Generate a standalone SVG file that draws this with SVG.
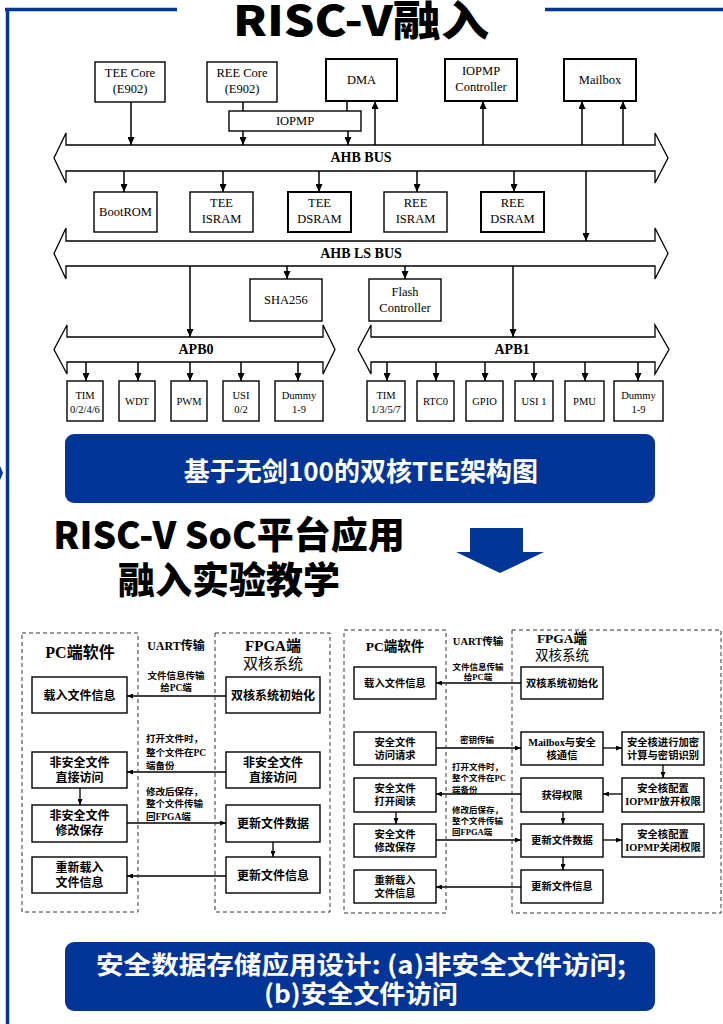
<svg xmlns="http://www.w3.org/2000/svg" width="723" height="1024" viewBox="0 0 723 1024">
<style>
.box{fill:#fff;stroke:#000;stroke-width:1.4}
.thk{stroke-width:2}
.bus{fill:#fff;stroke:#000;stroke-width:1.3}
.ln{stroke:#000;stroke-width:1.5;fill:none}
.la{stroke:#000;stroke-width:1.5;fill:none;marker-end:url(#ah)}
.lb{stroke:#000;stroke-width:1.3;fill:none;marker-end:url(#as)}
.dash{fill:none;stroke:#333;stroke-width:1;stroke-dasharray:4 3}
.t{font-family:"Liberation Serif","Times New Roman",serif;font-size:12.5px;text-anchor:middle;fill:#000}
.ts{font-family:"Liberation Serif","Times New Roman",serif;font-size:10.5px;text-anchor:middle;fill:#000}
.bl{font-family:"Liberation Serif","Times New Roman",serif;font-size:14px;font-weight:bold;text-anchor:middle;fill:#000}
.ca{font-family:"Liberation Serif","Noto Sans CJK SC",serif;font-size:12px;font-weight:bold;text-anchor:middle;fill:#000}
.la9{font-family:"Liberation Serif","Noto Sans CJK SC",serif;font-size:9.5px;font-weight:bold;fill:#000}
.cb{font-family:"Liberation Serif","Noto Sans CJK SC",serif;font-size:10.3px;font-weight:bold;text-anchor:middle;fill:#000}
.lb8{font-family:"Liberation Serif","Noto Sans CJK SC",serif;font-size:8.5px;font-weight:bold;fill:#000}
.hd{font-family:"Liberation Serif","Noto Sans CJK SC",serif;font-weight:bold;text-anchor:middle;fill:#000}
.hn{font-family:"Liberation Serif","Noto Sans CJK SC",serif;text-anchor:middle;fill:#000}
.big{font-family:"Noto Sans CJK SC","Noto Sans",sans-serif;font-weight:900;fill:#000}
.wt{font-family:"Noto Sans CJK SC","Noto Sans",sans-serif;font-weight:bold;fill:#fff;text-anchor:middle}
.blue{fill:#033598}
</style>
<defs>
<marker id="ah" viewBox="0 0 10 10" refX="10" refY="5" markerWidth="8" markerHeight="7" preserveAspectRatio="none" orient="auto" markerUnits="userSpaceOnUse"><path d="M0,0 L10,5 L0,10 z" fill="#000"/></marker>
<marker id="as" viewBox="0 0 10 10" refX="10" refY="5" markerWidth="6" markerHeight="5" preserveAspectRatio="none" orient="auto" markerUnits="userSpaceOnUse"><path d="M0,0 L10,5 L0,10 z" fill="#000"/></marker>
</defs>

<g id="frame">
<path d="M5,9.5 H177 M545,9.5 H723" stroke="#033598" stroke-width="3.5" fill="none"/>
<path d="M7.5,8 V1024" stroke="#033598" stroke-width="3.5" fill="none"/>
<polygon points="0,466 3,473 0,480" fill="#033598"/>
</g>

<text id="title1" class="big" x="361" y="36" font-size="42" text-anchor="middle" textLength="256" lengthAdjust="spacingAndGlyphs">RISC-V融入</text>

<g id="connectors">
<line class="la" x1="131" y1="102" x2="131" y2="145"/>
<line class="ln" x1="243" y1="102" x2="243" y2="111"/>
<line class="ln" x1="347" y1="101" x2="347" y2="111"/>
<line class="la" x1="243" y1="131" x2="243" y2="145"/>
<line class="la" x1="348" y1="131" x2="348" y2="145"/>
<line class="la" x1="375" y1="145" x2="375" y2="101"/>
<line class="la" x1="483" y1="145" x2="483" y2="101"/>
<line class="la" x1="582" y1="145" x2="582" y2="101"/>
<line class="la" x1="623" y1="145" x2="623" y2="101"/>
<line class="la" x1="124" y1="171" x2="124" y2="192"/>
<line class="la" x1="223" y1="171" x2="223" y2="192"/>
<line class="la" x1="319" y1="171" x2="319" y2="192"/>
<line class="la" x1="417" y1="171" x2="417" y2="192"/>
<line class="la" x1="514" y1="171" x2="514" y2="192"/>
<line class="la" x1="586" y1="171" x2="586" y2="241"/>
<line class="la" x1="190" y1="266" x2="190" y2="337"/>
<line class="la" x1="287" y1="266" x2="287" y2="279"/>
<line class="la" x1="405" y1="266" x2="405" y2="279"/>
<line class="la" x1="513" y1="266" x2="513" y2="337"/>
<line class="la" x1="86" y1="362" x2="86" y2="381"/>
<line class="la" x1="138" y1="362" x2="138" y2="381"/>
<line class="la" x1="190" y1="362" x2="190" y2="381"/>
<line class="la" x1="241" y1="362" x2="241" y2="381"/>
<line class="la" x1="298" y1="362" x2="298" y2="381"/>
<line class="la" x1="387" y1="362" x2="387" y2="381"/>
<line class="la" x1="436" y1="362" x2="436" y2="381"/>
<line class="la" x1="485" y1="362" x2="485" y2="381"/>
<line class="la" x1="534" y1="362" x2="534" y2="381"/>
<line class="la" x1="585" y1="362" x2="585" y2="381"/>
<line class="la" x1="638" y1="362" x2="638" y2="381"/>
<!-- (a) -->
<line class="lb" x1="226" y1="696" x2="127" y2="696"/>
<line class="lb" x1="226" y1="772" x2="127" y2="772"/>
<line class="lb" x1="80" y1="788" x2="80" y2="805"/>
<line class="lb" x1="127" y1="823" x2="226" y2="823"/>
<line class="lb" x1="273" y1="842" x2="273" y2="857"/>
<line class="lb" x1="226" y1="876" x2="127" y2="876"/>
<!-- (b) -->
<line class="lb" x1="521" y1="683" x2="436" y2="683"/>
<line class="lb" x1="436" y1="748" x2="521" y2="748"/>
<line class="lb" x1="603" y1="748" x2="622" y2="748"/>
<line class="lb" x1="663" y1="765" x2="663" y2="778"/>
<line class="lb" x1="622" y1="794" x2="603" y2="794"/>
<line class="lb" x1="521" y1="794" x2="436" y2="794"/>
<line class="lb" x1="396" y1="812" x2="396" y2="824"/>
<line class="lb" x1="563" y1="812" x2="563" y2="824"/>
<line class="lb" x1="436" y1="840" x2="521" y2="840"/>
<line class="lb" x1="603" y1="840" x2="622" y2="840"/>
<line class="lb" x1="563" y1="857" x2="563" y2="870"/>
<line class="lb" x1="521" y1="887" x2="436" y2="887"/>
</g>

<g id="tee-core"><rect class="box" x="95" y="62" width="70" height="40"/><text class="t" x="130" y="77">TEE Core</text><text class="t" x="130" y="93">(E902)</text></g>
<g id="ree-core"><rect class="box" x="207" y="62" width="70" height="40"/><text class="t" x="242" y="77">REE Core</text><text class="t" x="242" y="93">(E902)</text></g>
<g id="dma"><rect class="box thk" x="326" y="59" width="71" height="42"/><text class="t" x="361.5" y="84">DMA</text></g>
<g id="iopmp-ctrl"><rect class="box thk" x="445" y="59" width="72" height="42"/><text class="t" x="481" y="75">IOPMP</text><text class="t" x="481" y="91">Controller</text></g>
<g id="mailbox"><rect class="box thk" x="564" y="59" width="72" height="42"/><text class="t" x="600" y="84">Mailbox</text></g>
<g id="iopmp"><rect class="box" x="229" y="111" width="132" height="20"/><text class="t" x="295" y="125">IOPMP</text></g>

<g id="ahb-bus"><polygon class="bus" points="66,145 655,145 655,133 668,158 655,183 655,171 66,171 66,183 54,158 66,133"/><text class="bl" x="361" y="162">AHB BUS</text></g>

<g id="bootrom"><rect class="box" x="94" y="192" width="63" height="40"/><text class="t" x="125.5" y="216">BootROM</text></g>
<g id="tee-isram"><rect class="box" x="190" y="192" width="63" height="40"/><text class="t" x="221.5" y="207">TEE</text><text class="t" x="221.5" y="223">ISRAM</text></g>
<g id="tee-dsram"><rect class="box thk" x="288" y="192" width="63" height="40"/><text class="t" x="319.5" y="207">TEE</text><text class="t" x="319.5" y="223">DSRAM</text></g>
<g id="ree-isram"><rect class="box" x="384" y="192" width="63" height="40"/><text class="t" x="415.5" y="207">REE</text><text class="t" x="415.5" y="223">ISRAM</text></g>
<g id="ree-dsram"><rect class="box thk" x="481" y="192" width="63" height="40"/><text class="t" x="512.5" y="207">REE</text><text class="t" x="512.5" y="223">DSRAM</text></g>

<g id="ahb-ls-bus"><polygon class="bus" points="66,241 655,241 655,228 668,253.5 655,279 655,266 66,266 66,279 54,253.5 66,228"/><text class="bl" x="361" y="258">AHB LS BUS</text></g>

<g id="sha256"><rect class="box" x="250" y="279" width="72" height="42"/><text class="t" x="286" y="304">SHA256</text></g>
<g id="flash"><rect class="box" x="369" y="279" width="72" height="42"/><text class="t" x="405" y="296">Flash</text><text class="t" x="405" y="312">Controller</text></g>

<g id="apb0"><polygon class="bus" points="67,337 323,337 323,325 335,349.5 323,374 323,362 67,362 67,374 54,349.5 67,325"/><text class="bl" x="196" y="354">APB0</text></g>
<g id="apb1"><polygon class="bus" points="371,337 655,337 655,325 669,349.5 655,374 655,362 371,362 371,374 358,349.5 371,325"/><text class="bl" x="512" y="354">APB1</text></g>

<g id="tim0"><rect class="box" x="67" y="381" width="36" height="40"/><text class="ts" x="85" y="399">TIM</text><text class="ts" x="85" y="413">0/2/4/6</text></g>
<g id="wdt"><rect class="box" x="119" y="381" width="36" height="40"/><text class="ts" x="137" y="405">WDT</text></g>
<g id="pwm"><rect class="box" x="171" y="381" width="36" height="40"/><text class="ts" x="189" y="405">PWM</text></g>
<g id="usi02"><rect class="box" x="223" y="381" width="36" height="40"/><text class="ts" x="241" y="399">USI</text><text class="ts" x="241" y="413">0/2</text></g>
<g id="dummy0"><rect class="box" x="275" y="381" width="48" height="40"/><text class="ts" x="299" y="399">Dummy</text><text class="ts" x="299" y="413">1-9</text></g>

<g id="tim1"><rect class="box" x="367" y="381" width="38" height="40"/><text class="ts" x="386" y="399">TIM</text><text class="ts" x="386" y="413">1/3/5/7</text></g>
<g id="rtc0"><rect class="box" x="417" y="381" width="37" height="40"/><text class="ts" x="435.5" y="405">RTC0</text></g>
<g id="gpio"><rect class="box" x="466" y="381" width="37" height="40"/><text class="ts" x="484.5" y="405">GPIO</text></g>
<g id="usi1"><rect class="box" x="515" y="381" width="38" height="40"/><text class="ts" x="534" y="405">USI 1</text></g>
<g id="pmu"><rect class="box" x="565" y="381" width="39" height="40"/><text class="ts" x="584.5" y="405">PMU</text></g>
<g id="dummy1"><rect class="box" x="614" y="381" width="49" height="40"/><text class="ts" x="638.5" y="399">Dummy</text><text class="ts" x="638.5" y="413">1-9</text></g>

<g id="banner1"><rect class="blue" x="65" y="434" width="590" height="69" rx="9"/><text class="wt" x="361" y="481" font-size="26">基于无剑100的双核TEE架构图</text></g>

<g id="title2"><text class="big" x="229" y="549" font-size="37" text-anchor="middle">RISC-V SoC平台应用</text><text class="big" x="229" y="594" font-size="37" text-anchor="middle">融入实验教学</text></g>

<polygon id="down-arrow" class="blue" points="470,528 523,528 523,552 544,552 500,573 456,552 470,552"/>

<!-- (a) non-secure file access -->
<g id="a-pc"><rect class="dash" x="22" y="633" width="116" height="279"/><text class="hd" x="80" y="657.5" font-size="16">PC端软件</text></g>
<g id="a-fpga"><rect class="dash" x="215" y="633" width="115" height="279"/><text class="hd" x="273" y="650.5" font-size="15">FPGA端</text><text class="hn" x="273" y="668.5" font-size="15">双核系统</text></g>
<text id="a-uart" class="hd" x="176" y="649.5" font-size="12">UART传输</text>
<g id="a-load"><rect class="box" x="32" y="677" width="95" height="36"/><text class="ca" x="79.5" y="699.5">载入文件信息</text></g>
<g id="a-ns-access"><rect class="box" x="32" y="752" width="95" height="36"/><text class="ca" x="79.5" y="766.5">非安全文件</text><text class="ca" x="79.5" y="781.5">直接访问</text></g>
<g id="a-ns-save"><rect class="box" x="32" y="805" width="95" height="37"/><text class="ca" x="79.5" y="819.5">非安全文件</text><text class="ca" x="79.5" y="834.5">修改保存</text></g>
<g id="a-reload"><rect class="box" x="32" y="857" width="95" height="36"/><text class="ca" x="79.5" y="871.5">重新载入</text><text class="ca" x="79.5" y="886.5">文件信息</text></g>
<g id="a-init"><rect class="box" x="226" y="677" width="94" height="36"/><text class="ca" x="273" y="699.5">双核系统初始化</text></g>
<g id="a-f-access"><rect class="box" x="226" y="752" width="94" height="36"/><text class="ca" x="273" y="766.5">非安全文件</text><text class="ca" x="273" y="781.5">直接访问</text></g>
<g id="a-update-data"><rect class="box" x="226" y="805" width="94" height="37"/><text class="ca" x="273" y="827.5">更新文件数据</text></g>
<g id="a-update-info"><rect class="box" x="226" y="857" width="94" height="36"/><text class="ca" x="273" y="879.5">更新文件信息</text></g>
<g id="a-labels">
<text class="la9" x="176" y="678.5" text-anchor="middle">文件信息传输</text>
<text class="la9" x="176" y="690.5" text-anchor="middle">给PC端</text>
<text class="la9" x="146" y="741.5">打开文件时，</text>
<text class="la9" x="146" y="755.5">整个文件在PC</text>
<text class="la9" x="146" y="768.5">端备份</text>
<text class="la9" x="146" y="794.5">修改后保存，</text>
<text class="la9" x="146" y="806.5">整个文件传输</text>
<text class="la9" x="146" y="819.5">回FPGA端</text>
</g>

<!-- (b) secure file access -->
<g id="b-pc"><rect class="dash" x="344" y="630" width="102" height="283"/><text class="hd" x="395" y="651" font-size="13.5">PC端软件</text></g>
<g id="b-fpga"><rect class="dash" x="512" y="630" width="209" height="283"/><text class="hd" x="562" y="643" font-size="13.5">FPGA端</text><text class="hn" x="562" y="660" font-size="13.5">双核系统</text></g>
<text id="b-uart" class="hd" x="478" y="645" font-size="10.5">UART传输</text>
<g id="b-load"><rect class="box" x="354" y="667" width="82" height="32"/><text class="cb" x="395" y="686.7">载入文件信息</text></g>
<g id="b-req"><rect class="box" x="354" y="732" width="82" height="33"/><text class="cb" x="395" y="745.7">安全文件</text><text class="cb" x="395" y="759">访问请求</text></g>
<g id="b-open"><rect class="box" x="354" y="778" width="82" height="34"/><text class="cb" x="395" y="791.5">安全文件</text><text class="cb" x="395" y="805">打开阅读</text></g>
<g id="b-save"><rect class="box" x="354" y="824" width="82" height="33"/><text class="cb" x="395" y="837.5">安全文件</text><text class="cb" x="395" y="851">修改保存</text></g>
<g id="b-reload"><rect class="box" x="354" y="870" width="82" height="33"/><text class="cb" x="395" y="883.5">重新载入</text><text class="cb" x="395" y="897">文件信息</text></g>
<g id="b-init"><rect class="box" x="521" y="667" width="82" height="32"/><text class="cb" x="562" y="686.7">双核系统初始化</text></g>
<g id="b-mailbox"><rect class="box" x="521" y="732" width="82" height="33"/><text class="cb" x="562" y="745.7">Mailbox与安全</text><text class="cb" x="562" y="759">核通信</text></g>
<g id="b-perm"><rect class="box" x="521" y="778" width="82" height="34"/><text class="cb" x="562" y="798.7">获得权限</text></g>
<g id="b-update-data"><rect class="box" x="521" y="824" width="82" height="33"/><text class="cb" x="562" y="844.2">更新文件数据</text></g>
<g id="b-update-info"><rect class="box" x="521" y="870" width="82" height="33"/><text class="cb" x="562" y="890.2">更新文件信息</text></g>
<g id="b-encrypt"><rect class="box" x="622" y="732" width="82" height="33"/><text class="cb" x="663" y="745.7">安全核进行加密</text><text class="cb" x="663" y="759">计算与密钥识别</text></g>
<g id="b-open-perm"><rect class="box" x="622" y="778" width="82" height="34"/><text class="cb" x="663" y="791.5">安全核配置</text><text class="cb" x="663" y="805">IOPMP放开权限</text></g>
<g id="b-close-perm"><rect class="box" x="622" y="824" width="82" height="33"/><text class="cb" x="663" y="837.5">安全核配置</text><text class="cb" x="663" y="851">IOPMP关闭权限</text></g>
<g id="b-labels">
<text class="lb8" x="478" y="670" text-anchor="middle">文件信息传输</text>
<text class="lb8" x="478" y="680" text-anchor="middle">给PC端</text>
<text class="lb8" x="477" y="743" text-anchor="middle">密钥传输</text>
<text class="lb8" x="452" y="770">打开文件时，</text>
<text class="lb8" x="452" y="781">整个文件在PC</text>
<text class="lb8" x="452" y="793">端备份</text>
<text class="lb8" x="452" y="813">修改后保存，</text>
<text class="lb8" x="452" y="824">整个文件传输</text>
<text class="lb8" x="452" y="835">回FPGA端</text>
</g>

<g id="banner2"><rect class="blue" x="65" y="942" width="590" height="69" rx="9"/><text class="wt" x="361" y="974" font-size="25" textLength="530" lengthAdjust="spacingAndGlyphs">安全数据存储应用设计: (a)非安全文件访问;</text><text class="wt" x="361" y="1003" font-size="25" textLength="194" lengthAdjust="spacingAndGlyphs">(b)安全文件访问</text></g>
</svg>
